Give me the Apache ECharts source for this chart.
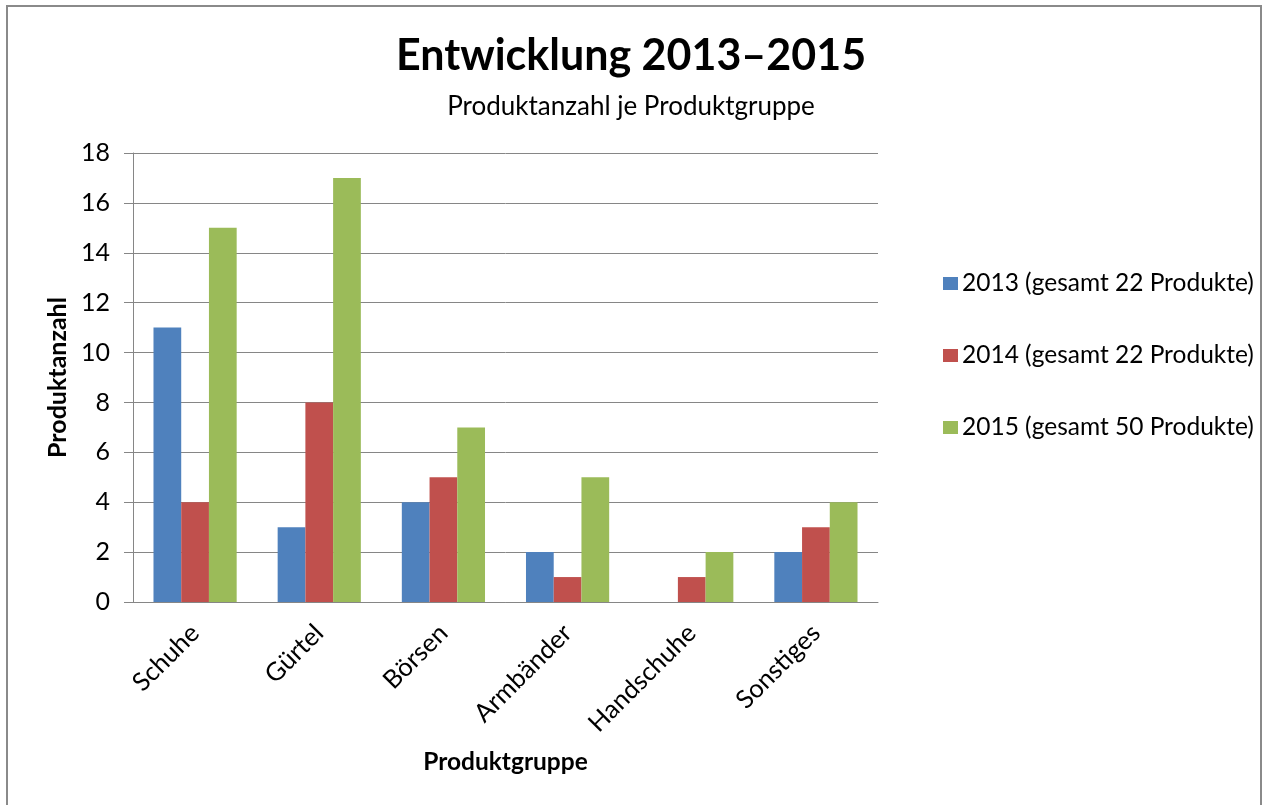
<!DOCTYPE html>
<html>
<head>
<meta charset="utf-8">
<script src="https://cdn.jsdelivr.net/npm/echarts@6/dist/echarts.min.js"></script>
<style>
html,body{margin:0;padding:0;background:#fff;}
#c{width:1262px;height:805px;}
</style>
</head>
<body>
<div id="c"></div>
<script>
const categories = ['Schuhe', 'Gürtel', 'Börsen', 'Armbänder', 'Handschuhe', 'Sonstiges'];
const seriesNames = ['2013 (gesamt 22 Produkte)', '2014 (gesamt 22 Produkte)', '2015 (gesamt 50 Produkte)'];
const values2013 = [11, 3, 4, 2, 0, 2];
const values2014 = [4, 8, 5, 1, 1, 3];
const values2015 = [15, 17, 7, 5, 2, 4];
const yTicks = [0, 2, 4, 6, 8, 10, 12, 14, 16, 18];

const colors = ['#4F81BD', '#C0504D', '#9BBB59'];
const font = 'Lato, "Open Sans", sans-serif';
const chart = echarts.init(document.getElementById('c'), null, {renderer: 'canvas'});
const allValues = [values2013, values2014, values2015];
chart.setOption({
  animation: false,
  backgroundColor: '#fff',
  textStyle: {fontFamily: font},
  title: {
    text: 'Entwicklung 2013–2015',
    subtext: 'Produktanzahl je Produktgruppe',
    left: 'center',
    top: 30,
    itemGap: 16,
    textStyle: {fontFamily: font, fontSize: 43, fontWeight: 'bold', color: '#000'},
    subtextStyle: {fontFamily: font, fontSize: 26, color: '#000'}
  },
  legend: {
    orient: 'vertical',
    left: 938,
    top: 266,
    itemWidth: 15,
    itemHeight: 13,
    itemGap: 47,
    icon: 'rect',
    textStyle: {fontFamily: font, fontSize: 24.5, color: '#000', padding: [0, 0, 0, -1]},
    data: seriesNames
  },
  grid: {left: 133, right: 384, top: 153, bottom: 203, containLabel: false},
  xAxis: {
    type: 'category',
    data: categories,
    name: 'Produktgruppe',
    nameLocation: 'middle',
    nameGap: 148,
    nameTextStyle: {fontFamily: font, fontSize: 24.5, fontWeight: 'bold', color: '#000'},
    axisLine: {lineStyle: {color: '#868686', width: 1}},
    axisTick: {show: false},
    axisLabel: {rotate: 45, fontSize: 25.5, color: '#000', margin: 27, fontFamily: font}
  },
  yAxis: {
    type: 'value',
    min: 0,
    max: 18,
    interval: 2,
    name: 'Produktanzahl',
    nameLocation: 'middle',
    nameGap: 62,
    nameTextStyle: {fontFamily: font, fontSize: 25, fontWeight: 'bold', color: '#000'},
    axisLine: {show: true, lineStyle: {color: '#868686', width: 1}},
    axisTick: {show: true, inside: false, length: 9, lineStyle: {color: '#868686'}},
    axisLabel: {fontSize: 25, color: '#000', margin: 23, fontFamily: font,
      formatter: v => yTicks.includes(v) ? String(v) : ''},
    splitLine: {show: true, lineStyle: {color: '#868686', width: 1}}
  },
  graphic: [{
    type: 'rect',
    shape: {x: 7, y: 6, width: 1254, height: 820},
    style: {fill: 'none', stroke: '#8a8a8a', lineWidth: 2},
    silent: true, z: 100
  }],
  series: seriesNames.map((n, i) => ({
    name: n,
    type: 'bar',
    data: allValues[i],
    barGap: '0%',
    barCategoryGap: '33%',
    itemStyle: {color: colors[i]}
  }))
});
</script>
</body>
</html>
